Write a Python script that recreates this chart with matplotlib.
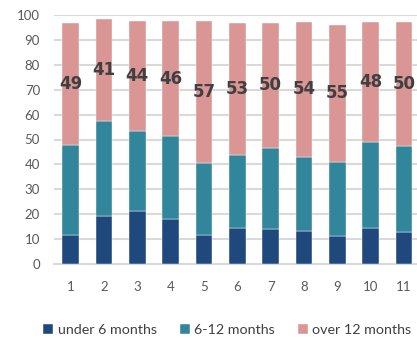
import numpy as np
import matplotlib
matplotlib.use("Agg")
import matplotlib.pyplot as plt

plt.rcParams['font.family'] = ['Lato', 'DejaVu Sans']

# share of cases by duration, per group
groups = ['1', '2', '3', '4', '5', '6', '7', '8', '9', '10', '11']
under_6 = [11.5, 19.4, 21.2, 17.9, 11.5, 14.6, 13.9, 13.3, 11.1, 14.6, 13.0]
months_6_12 = [36.3, 38.0, 32.3, 33.5, 28.9, 29.0, 32.8, 29.8, 30.0, 34.5, 34.3]
over_12 = [49, 41, 44, 46, 57, 53, 50, 54, 55, 48, 50]

series_names = ['under 6 months', '6-12 months', 'over 12 months']
colors = ['#1f497d', '#31869b', '#da9694']

fig = plt.figure(figsize=(4.17, 3.4), dpi=100)
# the plot area runs slightly past the right edge of the figure
ax = fig.add_axes([54 / 417, 76 / 340, 366.7 / 417, 249 / 340])

x = np.arange(1, len(groups) + 1)
bottom = np.zeros(len(groups))
for vals, name, col in zip([under_6, months_6_12, over_12], series_names, colors):
    vals = np.array(vals, dtype=float)
    ax.bar(x, vals, width=0.5, bottom=bottom, color=col, label=name,
           edgecolor='white', linewidth=0.3, zorder=3)
    bottom += vals

# value labels in the middle of the top segment
top_base = np.array(under_6) + np.array(months_6_12)
for xi, b, v in zip(x, top_base, over_12):
    ax.text(xi, b + v / 2, str(v), ha='center', va='center',
            fontsize=12, fontweight='bold', color='#404040', zorder=4,
            family='DejaVu Sans')

ax.set_xlim(0.5, 11.5)
ax.set_ylim(0, 100)
ax.set_yticks(np.arange(0, 101, 10))
ax.set_xticks(x)
ax.set_xticklabels(groups)
ax.yaxis.grid(True, color='#d9d9d9', linewidth=1.5, zorder=0)
ax.set_axisbelow(True)
for s in ['top', 'right', 'left']:
    ax.spines[s].set_visible(False)
ax.spines['bottom'].set_color('#d9d9d9')
ax.spines['bottom'].set_linewidth(1.5)
ax.tick_params(axis='both', length=0, labelsize=9.5, colors='#595959')
ax.tick_params(axis='y', pad=10)
ax.tick_params(axis='x', pad=12)

fig.legend(loc='center', bbox_to_anchor=(0.545, 10 / 340), ncol=3, frameon=False,
           fontsize=10.3, handlelength=0.7, handleheight=0.7, handletextpad=0.3,
           columnspacing=1.6, labelcolor='#404040')

fig.savefig('out.png', dpi=100)
